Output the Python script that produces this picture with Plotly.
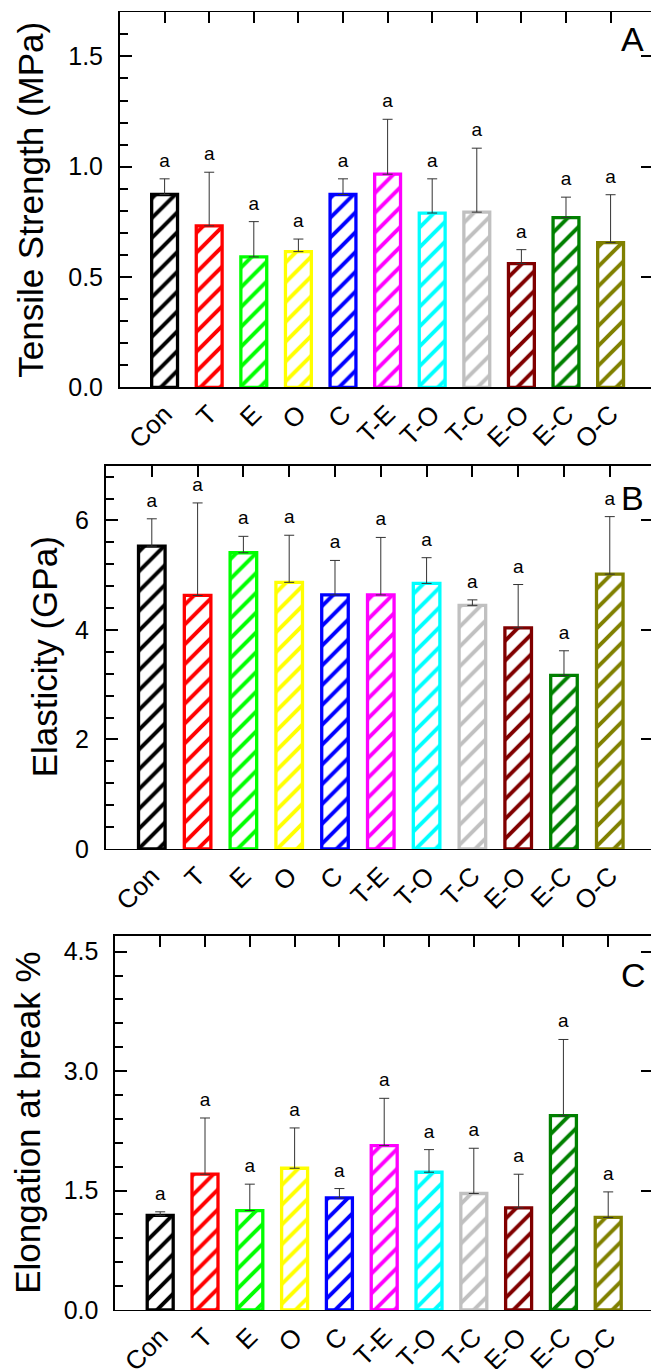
import plotly.graph_objects as go

W, H = 651, 1369

categories = ["Con", "T", "E", "O", "C", "T-E", "T-O", "T-C", "E-O", "E-C", "O-C"]
bar_colors = ["#000000", "#FF0000", "#00FF00", "#FFFF00", "#0000FF", "#FF00FF",
              "#00FFFF", "#C0C0C0", "#800000", "#008000", "#808000"]
letters = ["a"] * 11

tensile_mean = [0.874, 0.732, 0.591, 0.615, 0.874, 0.966, 0.790, 0.794, 0.561, 0.769, 0.656]
tensile_err = [0.071, 0.243, 0.160, 0.057, 0.071, 0.249, 0.155, 0.290, 0.063, 0.093, 0.217]

elastic_mean = [5.53, 4.63, 5.41, 4.87, 4.64, 4.64, 4.85, 4.45, 4.04, 3.17, 5.02]
elastic_err = [0.50, 1.69, 0.30, 0.86, 0.63, 1.05, 0.47, 0.10, 0.79, 0.45, 1.05]

elong_mean = [1.187, 1.705, 1.249, 1.780, 1.408, 2.064, 1.730, 1.463, 1.283, 2.440, 1.162]
elong_err = [0.046, 0.706, 0.331, 0.506, 0.117, 0.594, 0.284, 0.568, 0.422, 0.957, 0.321]

FONT = "Arial, Liberation Sans, sans-serif"

panels = [
    dict(mean=tensile_mean, err=tensile_err, title="Tensile Strength (MPa)", label="A",
         x0=120, xend=10.906, top=12.3, bottom=387.3, ymax=1.7, dtick=0.5, minor=0.1,
         fmt=".1f", title_x=31, label_y=39),
    dict(mean=elastic_mean, err=elastic_err, title="Elasticity (GPa)", label="B",
         x0=106, xend=10.90, top=465.7, bottom=849, ymax=7.0, dtick=2, minor=0.4,
         fmt="d", title_x=44, label_y=498),
    dict(mean=elong_mean, err=elong_err, title="Elongation at break %", label="C",
         x0=115.4, xend=10.955, top=935.7, bottom=1310, ymax=4.7, dtick=1.5, minor=0.3,
         fmt=".1f", title_x=28, label_y=975),
]

idx = list(range(len(categories)))
fig = go.Figure()
layout = dict(width=W, height=H, autosize=False, margin=dict(l=0, r=0, t=0, b=0),
              paper_bgcolor="white", plot_bgcolor="white", showlegend=False,
              font=dict(family=FONT, color="black"), annotations=[])

for i, p in enumerate(panels):
    n = i + 1
    xs = "" if n == 1 else str(n)
    xa, ya = "x" + xs, "y" + xs
    xtop, yright = "x" + str(n + 3), "y" + str(n + 3)
    xdom = [p["x0"] / W, 1.0]
    ydom = [1 - p["bottom"] / H, 1 - p["top"] / H]
    tops = [m + e for m, e in zip(p["mean"], p["err"])]

    fig.add_trace(go.Bar(
        x=idx, y=p["mean"], xaxis=xa, yaxis=ya, width=0.58,
        marker=dict(color="white",
                    line=dict(color=bar_colors, width=3.3),
                    pattern=dict(shape="/", fgcolor=bar_colors, bgcolor="white",
                                 size=14, solidity=0.28, fillmode="replace")),
        error_y=dict(type="data", symmetric=False, array=p["err"],
                     arrayminus=[0] * len(idx), color="#333333", thickness=1, width=5),
        hoverinfo="skip"))
    fig.add_trace(go.Scatter(
        x=idx, y=tops, xaxis=xa, yaxis=ya, mode="markers+text", text=letters,
        textposition="top center", marker=dict(size=10, color="rgba(0,0,0,0)"),
        textfont=dict(size=19, family=FONT, color="black"), hoverinfo="skip"))
    # dummy traces to activate top and right overlay axes
    fig.add_trace(go.Scatter(x=[None], y=[None], xaxis=xtop, yaxis=ya, hoverinfo="skip"))
    fig.add_trace(go.Scatter(x=[None], y=[None], xaxis=xa, yaxis=yright, hoverinfo="skip"))

    rng = [-1, p["xend"]]
    layout["xaxis" + xs] = dict(
        domain=xdom, range=rng, anchor=ya, tickmode="array", tickvals=idx,
        ticktext=categories, tickangle=-45, ticks="", showline=True, linecolor="black",
        linewidth=1.3, showgrid=False, zeroline=False, automargin=False,
        tickfont=dict(size=26, family=FONT, color="black"))
    layout["xaxis" + str(n + 3)] = dict(
        overlaying=xa, side="top", anchor=ya, range=rng, tickmode="array", tickvals=idx,
        ticks="inside", ticklen=11, tickwidth=2, tickcolor="black", showticklabels=False,
        showline=True, linecolor="black", linewidth=1.3, showgrid=False, zeroline=False,
        automargin=False)
    layout["yaxis" + xs] = dict(
        domain=ydom, range=[0, p["ymax"]], anchor=xa, tickmode="linear", tick0=0,
        dtick=p["dtick"], tickformat=p["fmt"], ticks="inside", ticklen=12, tickwidth=2,
        tickcolor="black", minor=dict(ticks="inside", ticklen=8, tickwidth=2,
                                      tickcolor="black", dtick=p["minor"], tick0=0),
        showline=True, linecolor="black", linewidth=2, showgrid=False, zeroline=False,
        automargin=False, ticklabelstandoff=10,
        tickfont=dict(size=25, family=FONT, color="black"))
    layout["yaxis" + str(n + 3)] = dict(
        overlaying=ya, side="right", anchor=xa, range=[0, p["ymax"]], tickmode="linear",
        tick0=0, dtick=p["dtick"], ticks="inside", ticklen=10, tickwidth=2,
        tickcolor="black", showticklabels=False, showline=False, showgrid=False,
        zeroline=False, automargin=False)

    layout["annotations"].append(dict(
        text=p["title"], textangle=-90, xref="paper", yref="paper",
        x=p["title_x"] / W, y=1 - (p["top"] + p["bottom"]) / 2 / H,
        xanchor="center", yanchor="middle", showarrow=False,
        font=dict(size=35, family=FONT, color="black")))
    layout["annotations"].append(dict(
        text=p["label"], xref="paper", yref="paper", x=619 / W, y=1 - p["label_y"] / H,
        xanchor="left", yanchor="middle", showarrow=False,
        font=dict(size=34, family=FONT, color="black")))

fig.update_layout(**layout)
fig.write_html(
    "out.html",
    config={"displayModeBar": False, "staticPlot": True},
    post_script="document.body.style.margin='0';document.body.style.padding='0';"
                "document.body.style.overflow='hidden';"
                "document.documentElement.style.overflow='hidden';",
)
